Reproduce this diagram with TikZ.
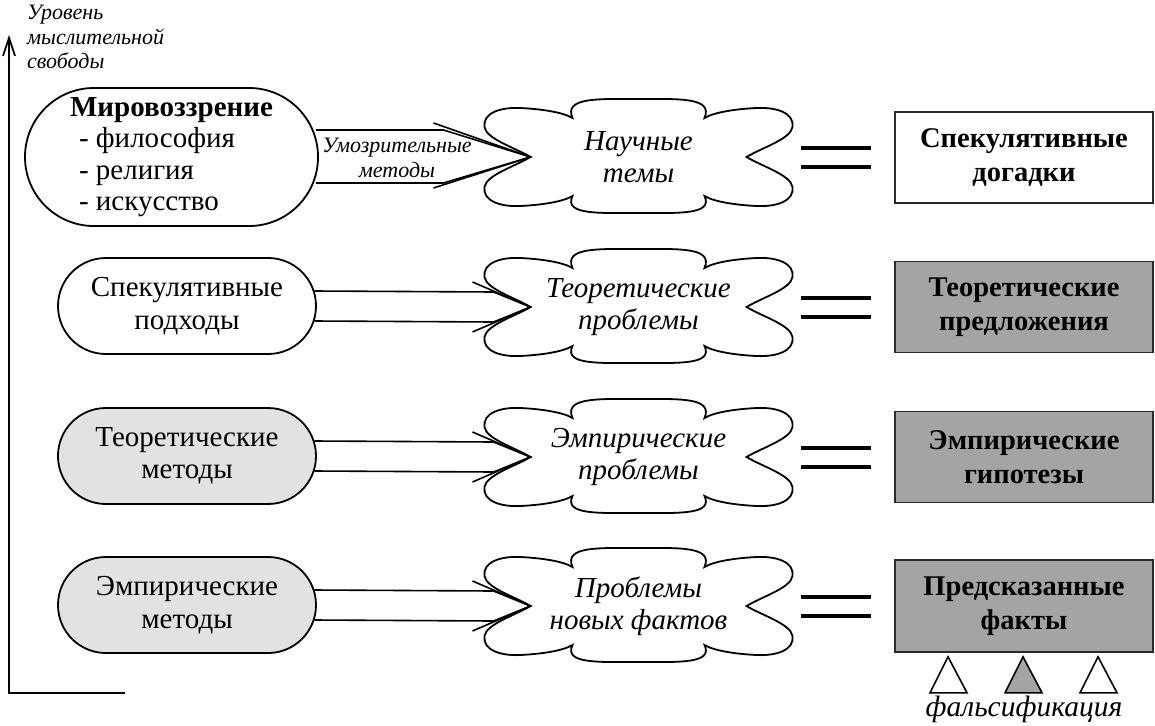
\documentclass[tikz,border=0pt]{standalone}
\usepackage{fontspec}
\setmainfont{Liberation Serif}
\usetikzlibrary{arrows.meta,calc}
\definecolor{lightfill}{HTML}{E2E2E2}
\definecolor{darkfill}{HTML}{A4A4A4}
\definecolor{boxline}{HTML}{2A2A2A}
\newcommand{\cloudshape}[1]{%
  \draw[cloudline, shift={(#1.center)}]
    (-108,0) .. controls (-125,-10) and (-152,-18) .. (-154,-30)
    .. controls (-156,-44) and (-138,-50) .. (-118,-49)
    .. controls (-98,-48) and (-76,-45) .. (-66,-39)
    .. controls (-75,-60) and (-40,-58) .. (0,-58)
    .. controls (40,-58) and (75,-60) .. (66,-39)
    .. controls (76,-45) and (98,-48) .. (118,-49)
    .. controls (138,-50) and (156,-44) .. (154,-30)
    .. controls (152,-18) and (125,-10) .. (108,0)
    .. controls (125,10) and (152,18) .. (154,30)
    .. controls (156,44) and (138,50) .. (118,49)
    .. controls (98,48) and (76,45) .. (66,39)
    .. controls (75,58) and (40,56) .. (0,56)
    .. controls (-40,56) and (-75,58) .. (-66,39)
    .. controls (-76,45) and (-98,48) .. (-118,49)
    .. controls (-138,50) and (-156,44) .. (-154,30)
    .. controls (-152,18) and (-125,10) .. (-108,0) -- cycle;}
\newcommand{\thinarrow}[2]{%
  \coordinate (#2tip) at ($(#2.center)+(-108,0)$);
  \draw[conn] ($(#1.east)+(-2.5,-15)$) -- ($(#2tip)+(-37,-15)$) -- (#2tip);
  \draw[conn] ($(#1.east)+(-2.5,15)$) -- ($(#2tip)+(-37,15)$) -- (#2tip);
  \draw[conn] ($(#2tip)+(-58,-25)$) -- (#2tip) -- ($(#2tip)+(-58,25)$);}
\newcommand{\eqsign}[1]{%
  \draw[eqbar] ($(#1.west)+(-93,-9.5)$) -- ($(#1.west)+(-23,-9.5)$);
  \draw[eqbar] ($(#1.west)+(-93,9.5)$) -- ($(#1.west)+(-23,9.5)$);}
\begin{document}
\begin{tikzpicture}[x=1pt,y=-1pt,
  pill/.style={draw=black, line width=1.8pt, rounded corners=47.9pt, minimum width=258pt, minimum height=96pt, inner sep=0pt, align=center, font=\fontsize{29}{32.5}\selectfont},
  pillgray/.style={pill, fill=lightfill},
  cloudtext/.style={inner sep=0pt, align=center, font=\fontsize{29}{32.5}\selectfont\itshape},
  cloudline/.style={draw=black, line width=1.8pt},
  box/.style={draw=boxline, line width=1.6pt, minimum width=258pt, minimum height=91pt, inner sep=0pt, align=center, font=\fontsize{28.5}{34}\selectfont\bfseries},
  boxdark/.style={box, fill=darkfill},
  conn/.style={line width=1.6pt},
  eqbar/.style={line width=4pt},
  tri/.style={draw=black, line width=1.6pt},
  axis/.style={line width=1.8pt},
  smallit/.style={font=\fontsize{22}{24.5}\selectfont\itshape, inner sep=0pt, align=left}]
\useasboundingbox (0,0) rectangle (1155,725);

% axis
\coordinate (axr) at (125,693);
\coordinate (ax0) at (9,693);
\coordinate (axtop) at (9,35);
\draw[axis, -{Straight Barb[length=18pt,width=12pt]}] (axr) -- (ax0) -- (axtop);
\node[smallit, anchor=west] (axlabel) at (27,37) {Уровень\\мыслительной\\свободы};

% row 1
\node[pill, minimum width=293pt, minimum height=138pt, rounded corners=68.9pt, align=left, font=\fontsize{29}{31.5}\selectfont] (p1) at (171.5,157)
  {\textbf{Мировоззрение}\\\hspace*{9pt}- философия\\\hspace*{9pt}- религия\\\hspace*{9pt}- искусство};
\node[cloudtext] (c1) at (638.5,157) {Научные\\темы};
\cloudshape{c1}
\coordinate (c1tip) at ($(c1.center)+(-108,0)$);
\draw[conn] ($(p1.east)+(-3,-27)$) -- ($(c1tip)+(-87,-27)$) -- (c1tip);
\draw[conn] ($(p1.east)+(-3,26)$) -- ($(c1tip)+(-87,26)$) -- (c1tip);
\draw[conn] ($(c1tip)+(-97,-34)$) -- (c1tip) -- ($(c1tip)+(-97,31)$);
\node[smallit, align=center] (um) at (397,158) {Умозрительные\\методы};
\node[box] (b1) at (1024,157.5) {Спекулятивные\\догадки};
\eqsign{b1}

% row 2
\node[pill] (p2) at (187,306) {Спекулятивные\\подходы};
\node[cloudtext] (c2) at (638.5,307) {Теоретические\\проблемы};
\cloudshape{c2}
\thinarrow{p2}{c2}
\node[boxdark] (b2) at (1024,307) {Теоретические\\предложения};
\eqsign{b2}

% row 3
\node[pillgray] (p3) at (187,456) {Теоретические\\методы};
\node[cloudtext] (c3) at (638.5,457) {Эмпирические\\проблемы};
\cloudshape{c3}
\thinarrow{p3}{c3}
\node[boxdark] (b3) at (1024,457) {Эмпирические\\гипотезы};
\eqsign{b3}

% row 4
\node[pillgray] (p4) at (187,605) {Эмпирические\\методы};
\node[cloudtext] (c4) at (638.5,606) {Проблемы\\новых фактов};
\cloudshape{c4}
\thinarrow{p4}{c4}
\node[boxdark, minimum height=92pt] (b4) at (1024,606) {Предсказанные\\факты};
\eqsign{b4}

% falsification triangles
\draw[tri, fill=white] ($(b4.south)+(-76,4)$) -- ($(b4.south)+(-57,40)$) -- ($(b4.south)+(-94,40)$) -- cycle;
\draw[tri, fill=darkfill] ($(b4.south)+(-1,4)$) -- ($(b4.south)+(18,40)$) -- ($(b4.south)+(-19,40)$) -- cycle;
\draw[tri, fill=white] ($(b4.south)+(74,4)$) -- ($(b4.south)+(93,40)$) -- ($(b4.south)+(56,40)$) -- cycle;
\node[font=\fontsize{29.5}{32}\selectfont\itshape, inner sep=0pt, anchor=base] (fals) at (1024,716.5) {фальсификация};
\end{tikzpicture}
\end{document}
